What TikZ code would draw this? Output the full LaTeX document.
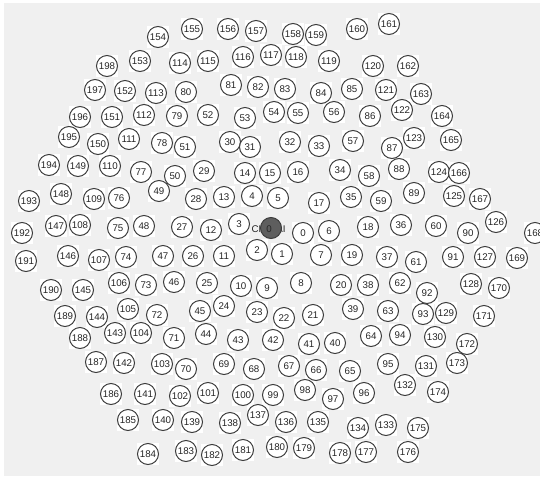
\documentclass[tikz,border=0pt]{standalone}
\usepackage{fontspec}
\setmainfont{Liberation Sans}
\definecolor{bgray}{HTML}{F0F0F0}
\definecolor{ring}{HTML}{3C3C3C}
\definecolor{chfill}{HTML}{5E5E5E}
\tikzset{
  chan/.style={circle, draw=ring, fill=white, line width=0.75pt, minimum size=15.75pt,
    inner sep=0pt, font=\fontsize{7.3}{8}\selectfont, text=black!85},
  lbl/.style={inner sep=0pt, font=\fontsize{7.3}{8}\selectfont, text=black!85}
}
\def\plist{0/303/233,1/282/254,2/257/250,3/239/224,4/252/196,5/278/198,6/329/231,7/321/255,8/301/283,9/267/288,
10/241/286,11/224/256,12/211/230,13/224/197,14/245/173,15/270/173,16/298/172,17/319/203,18/368/227,19/352/255,
20/341/285,21/313/315,22/284/318,23/257/312,24/224/306,25/207/283,26/193/256,27/182/227,28/196/199,29/204/171,
30/230/142,31/250/147,32/290/142,33/319/146,34/340/170,35/351/197,36/401/225,37/387/257,38/368/285,39/353/309,
40/335/343,41/309/344,42/273/340,43/238/340,44/206/334,45/200/311,46/174/282,47/163/256,48/144/226,49/159/191,
50/175/176,51/185/147,52/208/115,53/245/118,54/274/112,55/298/113,56/334/112,57/353/141,58/369/176,59/381/201,
60/436/226,61/416/262,62/400/283,63/388/311,64/371/336,65/350/371,66/316/370,67/289/366,68/254/369,69/224/364,
70/186/369,71/174/338,72/157/315,73/146/285,74/126/257,75/118/228,76/119/198,77/141/172,78/162/143,79/177/116,
80/186/92,81/231/85,82/258/87,83/285/89,84/321/93,85/352/89,86/370/116,87/392/148,88/399/169,89/414/193,
90/468/233,91/453/257,92/427/293,93/423/314,94/400/335,95/388/364,96/364/393,97/333/399,98/305/390,99/273/395,
100/243/395,101/208/393,102/180/396,103/162/364,104/141/333,105/128/309,106/119/283,107/99/260,108/80/225,109/94/199,
110/110/166,111/129/139,112/144/115,113/156/93,114/180/63,115/208/61,116/243/57,117/271/55,118/296/57,119/329/61,
120/373/66,121/386/90,122/402/110,123/414/138,124/439/172,125/454/196,126/496/222,127/485/257,128/471/284,129/446/313,
130/435/337,131/426/366,132/405/385,133/386/425,134/358/428,135/318/422,136/286/422,137/258/415,138/230/423,139/192/422,
140/163/420,141/145/394,142/124/363,143/115/333,144/97/317,145/83/290,146/68/256,147/56/226,148/61/194,149/78/166,
150/98/144,151/112/117,152/125/91,153/140/61,154/158/37,155/192/29,156/228/29,157/256/31,158/293/34,159/316/35,
160/357/29,161/389/24,162/408/66,163/421/94,164/442/116,165/451/140,166/459/173,167/480/199,168/535/233,169/517/258,
170/499/288,171/484/316,172/467/344,173/457/363,174/438/392,175/418/428,176/408/452,177/366/452,178/340/453,179/304/448,
180/277/447,181/243/450,182/212/455,183/186/451,184/148/454,185/128/420,186/111/394,187/96/362,188/80/338,189/65/316,
190/51/290,191/26/261,192/22/233,193/29/201,194/49/165,195/69/137,196/80/117,197/95/90,198/107/66}
\begin{document}
\begin{tikzpicture}[x=0.75pt,y=-0.75pt]
\useasboundingbox (0,0) rectangle (540,479);
\fill[white] (0,0) rectangle (540,479);
\fill[bgray] (4,3) rectangle (540,476);
% white backing squares
\foreach \n/\x/\y in \plist {
  \fill[white] (\x-11,\y-11) rectangle (\x+11,\y+11);
}
% channel circles
\foreach \n/\x/\y in \plist {
  \node[chan] (c\n) at (\x,\y) {\n};
}
% reference channel CH0 (label partly hidden by the filled marker)
\node[lbl, anchor=east] (chleft) at (266,229) {CH};
\node[lbl, anchor=west] (chright) at (276,229) {AI};
\node[circle, fill=chfill, draw=ring, line width=0.75pt, minimum size=15.75pt, inner sep=0pt] (ch0) at (271,228) {};
\node[lbl] (chzero) at (269,229) {0};
\end{tikzpicture}
\end{document}
